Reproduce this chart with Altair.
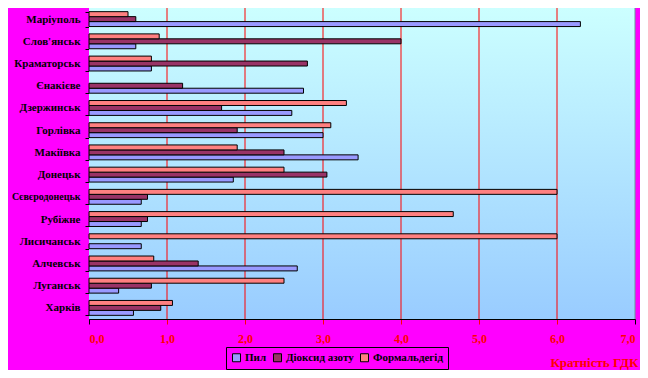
import altair as alt
import pandas as pd

cities = ["Маріуполь", "Слов'янськ", "Краматорськ", "Єнакієве", "Дзержинськ", "Горлівка",
          "Макіївка", "Донецьк", "Сєвєродонецьк", "Рубіжне", "Лисичанськ", "Алчевськ",
          "Луганськ", "Харків"]
pyl = [6.3, 0.6, 0.8, 2.75, 2.6, 3.0, 3.45, 1.85, 0.67, 0.67, 0.67, 2.67, 0.38, 0.57]
no2 = [0.6, 4.0, 2.8, 1.2, 1.7, 1.9, 2.5, 3.05, 0.75, 0.75, 0.0, 1.4, 0.8, 0.92]
form = [0.5, 0.9, 0.8, 0.0, 3.3, 3.1, 1.9, 2.5, 6.0, 4.67, 6.0, 0.83, 2.5, 1.07]
series = ["Пил", "Діоксид азоту", "Формальдегід"]
colors = ["#9999FF", "#993366", "#FF8080"]
ticks = [0, 1, 2, 3, 4, 5, 6, 7]

rows = []
for i, c in enumerate(cities):
    for s, vals in zip(series, [pyl, no2, form]):
        if vals[i] > 0:
            rows.append({"city": c, "series": s, "value": vals[i]})
df = pd.DataFrame(rows)

W, H = 546, 311
FONT = "Liberation Serif"

xscale = alt.Scale(domain=[0, 7], nice=False, zero=True)
xaxis = alt.Axis(
    values=ticks, grid=False, domainColor="black", tickSize=5,
    tickColor={"condition": {"test": "datum.value === 0 || datum.value === 7", "value": "black"}, "value": "red"},
    labelExpr="replace(format(datum.value, '.1f'), '.', ',')",
    labelColor="red", labelFont=FONT, labelFontWeight="bold", labelFontSize=12, labelPadding=9,
    title="Кратність ГДК", titleColor="red", titleFont=FONT, titleFontWeight="bold", titleFontSize=13,
    titleAlign="right", titleBaseline="middle", titleX=549, titleY=43, titleAnchor="end",
)

bg = alt.Chart(pd.DataFrame({"a": [0]})).mark_rect(
    color=alt.Gradient(gradient="linear", x1=0, x2=0, y1=0, y2=1,
                       stops=[alt.GradientStop(color="#CCFFFF", offset=0),
                              alt.GradientStop(color="#99CCFF", offset=1)])
).encode(x=alt.value(0), x2=alt.value(W), y=alt.value(0), y2=alt.value(H))

grid_df = pd.DataFrame({"value": ticks[1:], "col": ["red"] * 6 + ["#669999"]})
rules = alt.Chart(grid_df).mark_rule(strokeWidth=1).encode(
    x=alt.X("value:Q", scale=xscale, axis=xaxis),
    color=alt.Color("col:N", scale=None),
)

bars = alt.Chart(df).mark_bar(stroke="black", strokeWidth=1).encode(
    y=alt.Y("city:N", sort=cities, title=None,
            scale=alt.Scale(paddingInner=0.33, paddingOuter=0.165),
            axis=alt.Axis(tickBand="extent", tickSize=4, tickColor="black", domainColor="black",
                          labelFont=FONT, labelFontWeight="bold",
                          labelFontSize={"condition": {"test": "datum.label === 'Сєвєродонецьк'", "value": 10},
                                         "value": 11},
                          labelColor="black", labelPadding=5, labelLimit=90, grid=False)),
    yOffset=alt.YOffset("series:N", scale=alt.Scale(domain=["Формальдегід", "Діоксид азоту", "Пил"])),
    x=alt.X("value:Q", scale=xscale, axis=xaxis),
    color=alt.Color("series:N", scale=alt.Scale(domain=series, range=colors),
                    legend=alt.Legend(orient="none", legendX=137, legendY=339, direction="horizontal",
                                      title=None, strokeColor="black", fillColor="#FF00FF", padding=5,
                                      symbolType="square", symbolSize=64, symbolStrokeColor="black",
                                      symbolStrokeWidth=1, symbolOpacity=1,
                                      labelFont=FONT, labelFontWeight="bold", labelFontSize=11,
                                      labelColor="black", columnPadding=4, labelOffset=3)),
)

chart = alt.layer(bg, rules, bars).properties(
    width=W, height=H,
    padding={"left": 81, "top": 0, "right": 5, "bottom": 51},
    autosize=alt.AutoSizeParams(type="none"),
    background="#FF00FF",
).configure(font=FONT).configure_view(stroke=None)

chart.save("out.html", embed_options={"renderer": "svg", "actions": False})
